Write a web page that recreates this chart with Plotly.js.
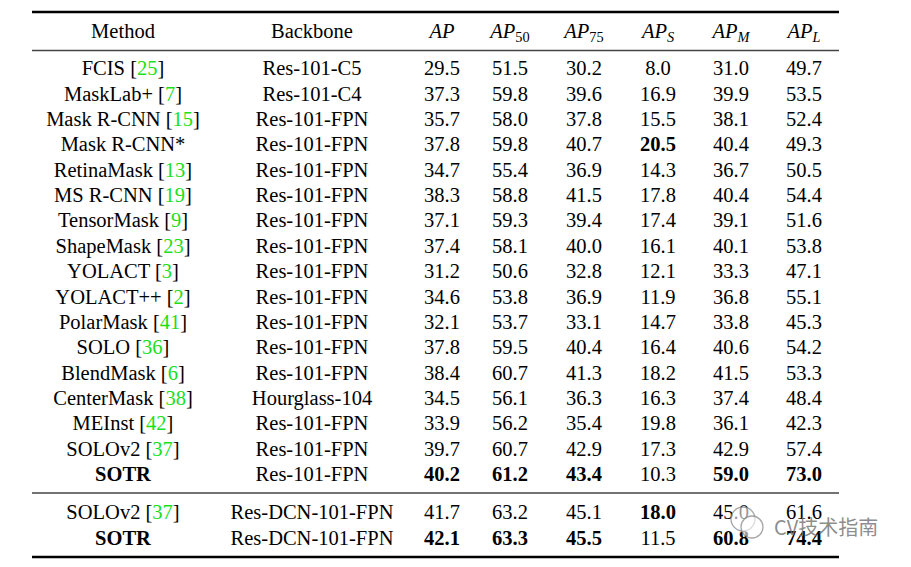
<!DOCTYPE html>
<html><head><meta charset="utf-8">
<script src="https://cdn.plot.ly/plotly-3.0.1.min.js"></script>
<style>html,body{margin:0;padding:0;background:#fff;}#chart{width:911px;height:567px;}</style>
</head><body><div id="chart"></div>
<script>
// ---- data ----
const headers = ["Method","Backbone","<i>AP</i>","<i>AP</i><sub>50</sub>","<i>AP</i><sub>75</sub>","<i>AP<sub>S</sub></i>","<i>AP<sub>M</sub></i>","<i>AP<sub>L</sub></i>"];
const methods = ["FCIS","MaskLab+","Mask R-CNN","Mask R-CNN*","RetinaMask","MS R-CNN","TensorMask","ShapeMask","YOLACT","YOLACT++","PolarMask","SOLO","BlendMask","CenterMask","MEInst","SOLOv2","SOTR","SOLOv2","SOTR"];
const refs = ["25","7","15","","13","19","9","23","3","2","41","36","6","38","42","37","","37",""];
const boldMethods = ["SOTR"];
const backbones = ["Res-101-C5","Res-101-C4","Res-101-FPN","Res-101-FPN","Res-101-FPN","Res-101-FPN","Res-101-FPN","Res-101-FPN","Res-101-FPN","Res-101-FPN","Res-101-FPN","Res-101-FPN","Res-101-FPN","Hourglass-104","Res-101-FPN","Res-101-FPN","Res-101-FPN","Res-DCN-101-FPN","Res-DCN-101-FPN"];
const AP   = [29.5,37.3,35.7,37.8,34.7,38.3,37.1,37.4,31.2,34.6,32.1,37.8,38.4,34.5,33.9,39.7,40.2,41.7,42.1];
const AP50 = [51.5,59.8,58.0,59.8,55.4,58.8,59.3,58.1,50.6,53.8,53.7,59.5,60.7,56.1,56.2,60.7,61.2,63.2,63.3];
const AP75 = [30.2,39.6,37.8,40.7,36.9,41.5,39.4,40.0,32.8,36.9,33.1,40.4,41.3,36.3,35.4,42.9,43.4,45.1,45.5];
const APS  = [8.0,16.9,15.5,20.5,14.3,17.8,17.4,16.1,12.1,11.9,14.7,16.4,18.2,16.3,19.8,17.3,10.3,18.0,11.5];
const APM  = [31.0,39.9,38.1,40.4,36.7,40.4,39.1,40.1,33.3,36.8,33.8,40.6,41.5,37.4,36.1,42.9,59.0,45.0,60.8];
const APL  = [49.7,53.5,52.4,49.3,50.5,54.4,51.6,53.8,47.1,55.1,45.3,54.2,53.3,48.4,42.3,57.4,73.0,61.6,74.4];
const groups = [0,0,0,0,0,0,0,0,0,0,0,0,0,0,0,0,0,1,1];

// ---- layout helpers ----
const colX = [123, 312, 442, 510, 584, 658, 731, 804];
const headerY = 33;
function rowY(i){ return i < 17 ? 70 + i*25.375 : 514 + (i-17)*25.5; }
const FONT = "Liberation Serif, Times New Roman, serif";
const FS = 20.5;
const TXT = "#000";
const GREEN = "#19e019";

const rowsY = methods.map((_, i) => rowY(i));
const traces = [];
function textTrace(xs, ys, texts){
  traces.push({type:'scatter', mode:'text', x: xs, y: ys, text: texts,
    textposition:'middle center', textfont:{family:FONT, size:FS, color:TXT},
    hoverinfo:'skip', showlegend:false, cliponaxis:false});
}
// header
textTrace(colX, colX.map(()=>headerY), headers);
// method column
textTrace(rowsY.map(()=>colX[0]), rowsY, methods.map((m,i)=>{
  let s = boldMethods.includes(m) ? "<b>"+m+"</b>" : m;
  if (refs[i]) s += " [<span style='color:"+GREEN+"'>"+refs[i]+"</span>]";
  return s;
}));
textTrace(rowsY.map(()=>colX[1]), rowsY, backbones);
[AP, AP50, AP75, APS, APM, APL].forEach((col, k) => {
  const maxByGroup = {};
  col.forEach((v,i)=>{ const g=groups[i]; if(maxByGroup[g]===undefined || v>maxByGroup[g]) maxByGroup[g]=v; });
  textTrace(rowsY.map(()=>colX[k+2]), rowsY, col.map((v,i)=> v===maxByGroup[groups[i]] ? "<b>"+v.toFixed(1)+"</b>" : v.toFixed(1)));
});

const X0 = 32, X1 = 839;
const shapes = [
  {type:'line', xref:'x', yref:'y', x0:X0, x1:X1, y0:12, y1:12, line:{color:'#000', width:2.6}},
  {type:'line', xref:'x', yref:'y', x0:X0, x1:X1, y0:50.5, y1:50.5, line:{color:'#444', width:1.5}},
  {type:'line', xref:'x', yref:'y', x0:X0, x1:X1, y0:493, y1:493, line:{color:'#444', width:1.5}},
  {type:'line', xref:'x', yref:'y', x0:X0, x1:X1, y0:557, y1:557, line:{color:'#000', width:2.6}},
  // watermark icon
  {type:'circle', xref:'x', yref:'y', x0:731, x1:755, y0:507, y1:531, line:{color:'rgba(130,130,130,0.7)', width:1.3}, fillcolor:'rgba(255,255,255,0.6)'},
  {type:'circle', xref:'x', yref:'y', x0:741, x1:763, y0:516, y1:538, line:{color:'rgba(130,130,130,0.7)', width:1.3}, fillcolor:'rgba(255,255,255,0.6)'}
];
const annotations = [
  {xref:'x', yref:'y', x:826, y:526, text:'CV技术指南', showarrow:false,
   font:{family:'Noto Sans CJK SC, sans-serif', size:20, color:'rgba(120,120,120,0.85)'}}
];

const layout = {
  width:911, height:567, margin:{l:0,r:0,t:0,b:0},
  paper_bgcolor:'#fff', plot_bgcolor:'#fff',
  xaxis:{range:[0,911], visible:false, fixedrange:true},
  yaxis:{range:[567,0], visible:false, fixedrange:true},
  shapes, annotations, showlegend:false, hovermode:false
};
Plotly.newPlot('chart', traces, layout, {staticPlot:true, displayModeBar:false});
</script></body></html>
